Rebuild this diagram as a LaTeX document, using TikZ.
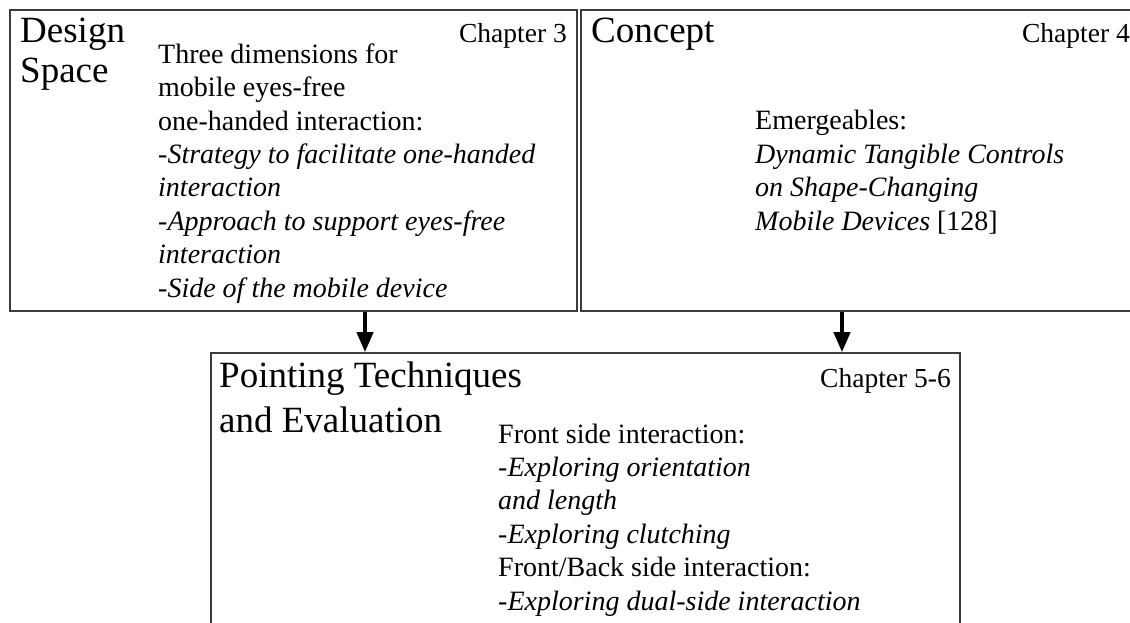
\documentclass[tikz,border=0pt]{standalone}
\usepackage{fontspec}
\setmainfont{Liberation Serif}
\usepackage{tikz}
\usetikzlibrary{positioning, arrows.meta}
\definecolor{FrameGray}{RGB}{60,60,60}

\begin{document}
\begin{tikzpicture}[x=1pt, y=-1pt,
  frame/.style={rectangle, draw=FrameGray, line width=1.6pt, inner sep=0pt},
  title/.style={inner sep=0pt, anchor=base west, align=left, font=\fontsize{37}{40}\selectfont},
  chapter/.style={inner sep=0pt, anchor=base east, font=\fontsize{27.5}{33}\selectfont},
  body/.style={inner sep=0pt, anchor=base west, align=left, font=\fontsize{28}{33.4}\selectfont},
  arrow/.style={-{Triangle[length=20pt, width=16pt]}, line width=4pt, black}
]
\useasboundingbox (0,0) rectangle (1130,623);
\clip (0,0) rectangle (1130,623);

\node[frame, minimum width=567pt, minimum height=301pt] (design) at (293.5,160.5) {};
\node[frame, minimum width=559pt, minimum height=301pt] (concept) at (860.5,160.5) {};
\node[frame, minimum width=749pt, minimum height=327pt] (pointing) at (585.5,516.5) {};

% multi-line texts sit on the baseline of their last line
\node[title] (designtitle) at (20,83) {Design\\Space};
\node[chapter] (designchap) at (567,43) {Chapter 3};
\node[body] (designtext) at (158,297) {Three dimensions for\\mobile eyes-free\\one-handed interaction:\\-\textit{Strategy to facilitate one-handed}\\\textit{interaction}\\-\textit{Approach to support eyes-free}\\\textit{interaction}\\-\textit{Side of the mobile device}};

\node[title] (concepttitle) at (591,43) {Concept};
\node[chapter] (conceptchap) at (1130,43) {Chapter 4};
\node[body] (concepttext) at (755,230) {Emergeables:\\\textit{Dynamic Tangible Controls}\\\textit{on Shape-Changing}\\\textit{Mobile Devices} [128]};

\node[title, font=\fontsize{37}{45}\selectfont] (pointingtitle) at (219,432) {Pointing Techniques\\and Evaluation};
\node[chapter] (pointingchap) at (951,387) {Chapter 5-6};
\node[body] (pointingtext) at (498,610) {Front side interaction:\\-\textit{Exploring orientation}\\\textit{and length}\\-\textit{Exploring clutching}\\Front/Back side interaction:\\-\textit{Exploring dual-side interaction}};

\coordinate (leftdrop) at (365,0);
\coordinate (rightdrop) at (842,0);
\draw[arrow] (design.south -| leftdrop) -- (pointing.north -| leftdrop);
\draw[arrow] (concept.south -| rightdrop) -- (pointing.north -| rightdrop);
\end{tikzpicture}
\end{document}
